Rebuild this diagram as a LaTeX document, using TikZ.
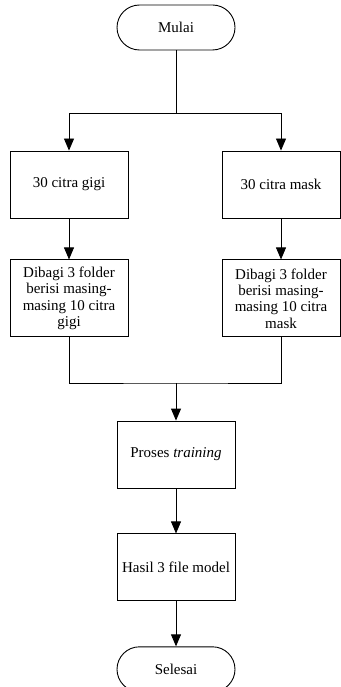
\documentclass[tikz,border=0pt]{standalone}
\usepackage{fontspec}
\setmainfont{Liberation Serif}
\usetikzlibrary{positioning,arrows.meta}
\begin{document}
\begin{tikzpicture}[
    x=1pt, y=1pt,
    node distance=45pt,
    font=\fontsize{15}{16.3}\selectfont,
    box/.style={rectangle, draw, line width=0.9pt, minimum width=118pt, minimum height=67pt, align=center, inner sep=2pt},
    terminal/.style={rectangle, draw, line width=0.9pt, rounded corners=22.5pt, minimum width=118pt, minimum height=45pt},
    arrow/.style={-{Triangle[length=12pt,width=10pt]}, line width=0.9pt},
    line/.style={line width=0.9pt}
]
    \useasboundingbox (0,0) rectangle (340,-687);
    % Start and input images
    \node[terminal] (mulai) at (176,-27.5) {Mulai};
    \node[box] (gigi) at (69,-184.5) {30 citra gigi};
    \node[box] (mask) at (281,-184.5) {30 citra mask};
    \node[box, minimum height=77pt, below=41pt of gigi] (foldgigi) {Dibagi 3 folder\\berisi masing-\\masing 10 citra\\gigi};
    \node[box, minimum height=77pt, below=41pt of mask] (foldmask) {Dibagi 3 folder\\berisi masing-\\masing 10 citra\\mask};
    
    % Training and results
    \node[box] (proses) at (176,-454.5) {Proses \textit{training}};
    \node[box, below=of proses] (hasil) {Hasil 3 file model};
    \node[terminal, below=of hasil] (selesai) {Selesai};
    
    % Connections
    \coordinate (split) at (176,-113);
    \coordinate (merge) at (176,-383);
    \draw[line] (mulai.south) -- (split);
    \draw[arrow] (split) -| (gigi.north);
    \draw[arrow] (split) -| (mask.north);
    \draw[arrow] (gigi) -- (foldgigi);
    \draw[arrow] (mask) -- (foldmask);
    \draw[line] (foldgigi.south) |- (merge) -| (foldmask.south);
    \draw[arrow] (merge) -- (proses.north);
    \draw[arrow] (proses) -- (hasil);
    \draw[arrow] (hasil) -- (selesai);
\end{tikzpicture}
\end{document}
